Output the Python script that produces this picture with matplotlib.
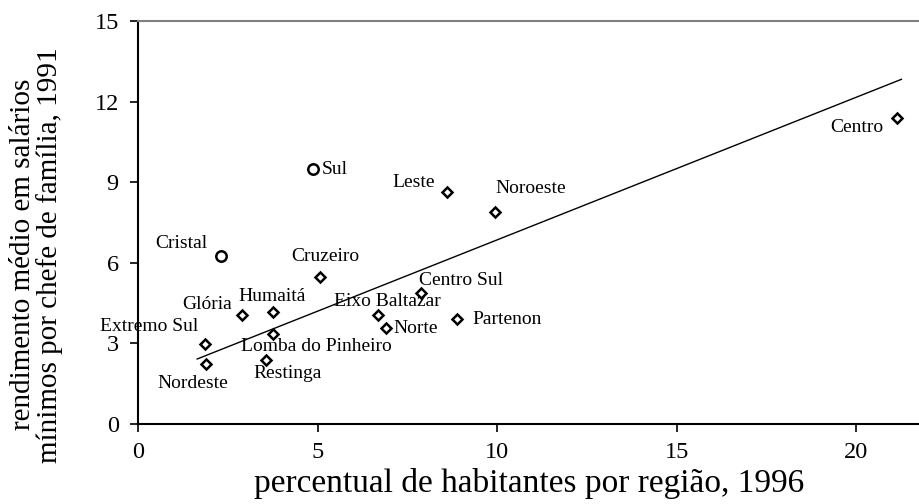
import matplotlib
matplotlib.use("Agg")
import matplotlib.pyplot as plt
import numpy as np

# regiões de Porto Alegre
regioes = ["Sul", "Cristal", "Leste", "Noroeste", "Centro", "Cruzeiro", "Glória",
           "Humaitá", "Lomba do Pinheiro", "Extremo Sul", "Nordeste", "Restinga",
           "Eixo Baltazar", "Norte", "Centro Sul", "Partenon"]
habitantes_pct = [4.87, 2.31, 8.59, 9.94, 21.14, 5.05, 2.90,
                  3.74, 3.74, 1.86, 1.88, 3.56,
                  6.69, 6.89, 7.88, 8.89]
rendimento = [9.49, 6.25, 8.65, 7.90, 11.4, 5.48, 4.06,
              4.16, 3.36, 2.99, 2.23, 2.38,
              4.07, 3.56, 4.89, 3.90]
circulos = ["Sul", "Cristal"]  # these two drawn as circles

# trendline as drawn in the original (endpoints)
tendencia_x = [1.64, 21.26]
tendencia_y = [2.42, 12.83]

x_ticks = [0, 5, 10, 15, 20]
y_ticks = [0, 3, 6, 9, 12, 15]

# label placement: (dx px, dy px, ha)
label_pos = {
    "Sul": (9, 0, "left"),
    "Cristal": (-14, 13, "right"),
    "Leste": (-12, 9, "right"),
    "Noroeste": (0, 23, "left"),
    "Centro": (-14, -10, "right"),
    "Cruzeiro": (6, 20, "center"),
    "Glória": (-10, 10, "right"),
    "Humaitá": (0, 16, "center"),
    "Lomba do Pinheiro": (44, -13, "center"),
    "Extremo Sul": (-7, 17, "right"),
    "Nordeste": (-13, -19, "center"),
    "Restinga": (21, -13, "center"),
    "Eixo Baltazar": (9, 13, "center"),
    "Norte": (8, 0, "left"),
    "Centro Sul": (-2, 12, "left"),
    "Partenon": (15, 0, "left"),
}

plt.rcParams["font.family"] = ["Liberation Serif", "DejaVu Serif"]

fig = plt.figure(figsize=(9.19, 5.04), dpi=100)
ax = fig.add_axes([0.1505, 0.1587, 0.8495, 0.7996])

x = np.array(habitantes_pct)
y = np.array(rendimento)

for nome, xi, yi in zip(regioes, x, y):
    marker = "o" if nome in circulos else "D"
    size = 7.5 if nome in circulos else 5.5
    ax.plot(xi, yi, marker=marker, markersize=size, markerfacecolor="white",
            markeredgecolor="black", markeredgewidth=1.8, linestyle="none", zorder=3)
    dx, dy, ha = label_pos[nome]
    ax.annotate(nome, (xi, yi), xytext=(dx, dy), textcoords="offset pixels",
                ha=ha, va="center", fontsize=14, zorder=4)

ax.plot(tendencia_x, tendencia_y, color="black", linewidth=1.0, zorder=2)

ax.set_xlim(0, 21.75)
ax.set_ylim(0, 15)
ax.set_xticks(x_ticks)
ax.set_yticks(y_ticks)
ax.tick_params(direction="out", length=6, width=1.2, labelsize=17.5)
ax.tick_params(axis="x", pad=7)
ax.tick_params(axis="y", pad=8)
ax.spines["right"].set_visible(False)
ax.spines["top"].set_color("#808080")
ax.spines["top"].set_linewidth(1.5)
ax.spines["left"].set_linewidth(1.5)
ax.spines["bottom"].set_linewidth(1.5)

ax.set_xlabel("percentual de habitantes por região, 1996", fontsize=24)
ax.xaxis.set_label_coords(0.5, -0.109)
ax.set_ylabel("rendimento médio em salários\nmínimos por chefe de família, 1991",
              fontsize=21, linespacing=1.0)
ax.yaxis.set_label_coords(-0.097, 0.42)

fig.savefig("out.png", dpi=100)
